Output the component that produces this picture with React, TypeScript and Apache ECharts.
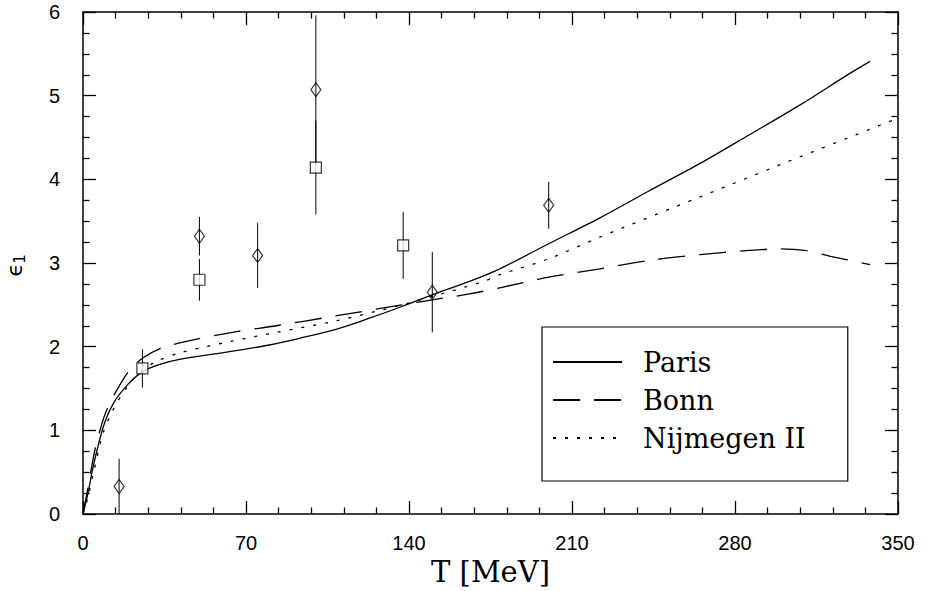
import React, { useEffect, useRef } from "react";
import * as echarts from "echarts";

// Theoretical curves: [T (MeV), epsilon_1 (deg)]
const parisCurve: [number, number][] = [
  [0, 0], [2.3, 0.27], [4.4, 0.57], [8.7, 1.04], [13, 1.32], [19, 1.54], [25, 1.69],
  [32, 1.78], [42, 1.85], [63, 1.94], [80, 2.02], [93, 2.1], [109, 2.21], [123, 2.34],
  [137, 2.48], [150, 2.62], [166, 2.78], [179, 2.93], [200, 3.23], [222, 3.54],
  [243, 3.86], [265, 4.19], [286, 4.53], [308, 4.89], [329, 5.26], [338, 5.41],
];
const bonnCurve: [number, number][] = [
  [0, 0], [1.5, 0.22], [3, 0.45], [5, 0.75], [7.5, 1.02], [10, 1.23], [14.5, 1.48],
  [20, 1.72], [26, 1.87], [34.5, 1.99], [49, 2.09], [66, 2.18], [83, 2.25], [109, 2.37],
  [137, 2.5], [150, 2.56], [166, 2.63], [180, 2.71], [200, 2.83], [222, 2.93],
  [243, 3.03], [265, 3.1], [286, 3.15], [300, 3.17], [310, 3.15], [321, 3.08], [338, 2.98],
];
const nijmegenCurve: [number, number][] = [
  [0, 0], [2.3, 0.22], [4.4, 0.48], [8.7, 0.97], [13, 1.25], [19, 1.52], [25, 1.71],
  [32, 1.83], [42, 1.93], [63, 2.06], [83, 2.17], [109, 2.31], [137, 2.5], [150, 2.6],
  [172, 2.78], [179, 2.86], [200, 3.05], [222, 3.31], [265, 3.79], [308, 4.27], [349, 4.72],
];

// Experimental points (diamonds)
const diamondT = [15.5, 50, 75, 100, 150, 200];
const diamondE = [0.33, 3.32, 3.09, 5.07, 2.65, 3.69];
const diamondErr = [0.33, 0.23, 0.39, 0.89, 0.48, 0.28];

// Experimental points (squares)
const squareT = [25.5, 50, 100, 137.5];
const squareE = [1.74, 2.8, 4.14, 3.21];
const squareErr = [0.23, 0.25, 0.56, 0.4];

const seriesNames = ["Paris", "Bonn", "Nijmegen II"];
const xTicks = { min: 0, max: 350, interval: 70 };
const yTicks = { min: 0, max: 6, interval: 1 };
const xTitle = "T [MeV]";

const BLACK = "#000";

export default function App() {
  const ref = useRef<HTMLDivElement>(null);

  useEffect(() => {
    if (!ref.current) return;
    const chart = echarts.init(ref.current, null, { renderer: "svg" });

    const frameLine = { show: true, onZero: false, lineStyle: { color: BLACK, width: 1.5 } };
    const tick = { show: true, inside: true, length: 13, lineStyle: { color: BLACK, width: 1.3 } };
    const minor = (n: number) => ({ show: true, splitNumber: n, length: 6.5, lineStyle: { color: BLACK, width: 1.3 } });

    const errData = (t: number[], e: number[], err: number[]) => t.map((v, i) => [v, e[i], err[i]]);
    const errorBars = (name: string, data: number[][]) => ({
      type: "custom" as const,
      name,
      data,
      encode: { x: 0, y: 1 },
      silent: true,
      z: 3,
      renderItem: (_p: any, api: any) => {
        const x = api.value(0);
        const y = api.value(1);
        const e = api.value(2);
        const p1 = api.coord([x, y - e]);
        const p2 = api.coord([x, y + e]);
        return {
          type: "line",
          shape: { x1: p1[0], y1: p1[1], x2: p2[0], y2: p2[1] },
          style: { stroke: BLACK, lineWidth: 1 },
        };
      },
    });

    chart.setOption({
      animation: false,
      backgroundColor: "#fff",
      grid: { left: 83, right: 30, top: 12, bottom: 77, outerBoundsMode: "none", containLabel: false },
      legend: {
        data: seriesNames,
        orient: "vertical",
        left: 542,
        top: 327,
        itemWidth: 69,
        itemHeight: 14,
        itemGap: 0,
        borderColor: BLACK,
        borderWidth: 1.2,
        borderRadius: 0,
        padding: [16, 42, 24, 10],
        itemStyle: { color: "rgba(0,0,0,0)", borderColor: "rgba(0,0,0,0)", borderWidth: 0, opacity: 0 },
        textStyle: {
          fontFamily: "DejaVu Serif",
          fontSize: 27,
          color: BLACK,
          lineHeight: 38,
          padding: [0, 0, 0, 16],
        },
        selectedMode: false,
      },
      graphic: [
        {
          type: "group",
          x: 14,
          y: 270,
          rotation: Math.PI / 2,
          children: [
            {
              type: "text",
              x: 0,
              y: 0,
              style: {
                text: "ϵ",
                font: "22px 'DejaVu Sans'",
                fill: BLACK,
                align: "center",
                verticalAlign: "middle",
              },
            },
            {
              type: "text",
              x: 11,
              y: 6,
              style: {
                text: "1",
                font: "15px 'DejaVu Sans'",
                fill: BLACK,
                align: "center",
                verticalAlign: "middle",
              },
            },
          ],
        },
      ],
      xAxis: [
        {
          type: "value",
          ...xTicks,
          position: "bottom",
          axisLine: frameLine,
          axisTick: tick,
          minorTick: minor(5),
          splitLine: { show: false },
          minorSplitLine: { show: false },
          axisLabel: { color: BLACK, fontSize: 20, fontFamily: "Liberation Sans", margin: 19 },
          name: xTitle,
          nameLocation: "middle",
          nameGap: 43,
          nameTextStyle: { color: BLACK, fontFamily: "DejaVu Serif", fontSize: 29 },
        },
        {
          type: "value",
          ...xTicks,
          position: "top",
          axisLine: frameLine,
          axisTick: tick,
          minorTick: minor(5),
          splitLine: { show: false },
          minorSplitLine: { show: false },
          axisLabel: { show: false },
        },
      ],
      yAxis: [
        {
          type: "value",
          ...yTicks,
          position: "left",
          axisLine: frameLine,
          axisTick: tick,
          minorTick: minor(4),
          splitLine: { show: false },
          minorSplitLine: { show: false },
          axisLabel: { color: BLACK, fontSize: 20, fontFamily: "Liberation Sans", margin: 23 },
        },
        {
          type: "value",
          ...yTicks,
          position: "right",
          axisLine: frameLine,
          axisTick: tick,
          minorTick: minor(4),
          splitLine: { show: false },
          minorSplitLine: { show: false },
          axisLabel: { show: false },
        },
      ],
      series: [
        {
          name: "Paris",
          type: "line",
          data: parisCurve,
          smooth: 0.3,
          symbol: "none",
          lineStyle: { color: BLACK, width: 1.3, type: "solid" },
          itemStyle: { color: BLACK },
          z: 2,
        },
        {
          name: "Bonn",
          type: "line",
          data: bonnCurve,
          smooth: 0.3,
          symbol: "none",
          lineStyle: { color: BLACK, width: 1.3, type: [27, 14] },
          itemStyle: { color: BLACK },
          z: 2,
        },
        {
          name: "Nijmegen II",
          type: "line",
          data: nijmegenCurve,
          smooth: 0.3,
          symbol: "none",
          lineStyle: { color: BLACK, width: 1.3, type: [3, 9] },
          itemStyle: { color: BLACK },
          z: 2,
        },
        errorBars("diamond errors", errData(diamondT, diamondE, diamondErr)),
        errorBars("square errors", errData(squareT, squareE, squareErr)),
        {
          name: "diamonds",
          type: "scatter",
          data: diamondT.map((t, i) => [t, diamondE[i]]),
          symbol: "diamond",
          symbolSize: [10, 14],
          itemStyle: { color: "rgba(255,255,255,0)", borderColor: BLACK, borderWidth: 1.2 },
          z: 4,
        },
        {
          name: "squares",
          type: "scatter",
          data: squareT.map((t, i) => [t, squareE[i]]),
          symbol: "rect",
          symbolSize: 11,
          itemStyle: { color: "#fff", borderColor: BLACK, borderWidth: 1.2 },
          z: 4,
        },
      ],
    });

    return () => chart.dispose();
  }, []);

  return (
    <div
      ref={ref}
      style={{ position: "fixed", left: 0, top: 0, width: 928, height: 591, background: "#fff" }}
    />
  );
}
